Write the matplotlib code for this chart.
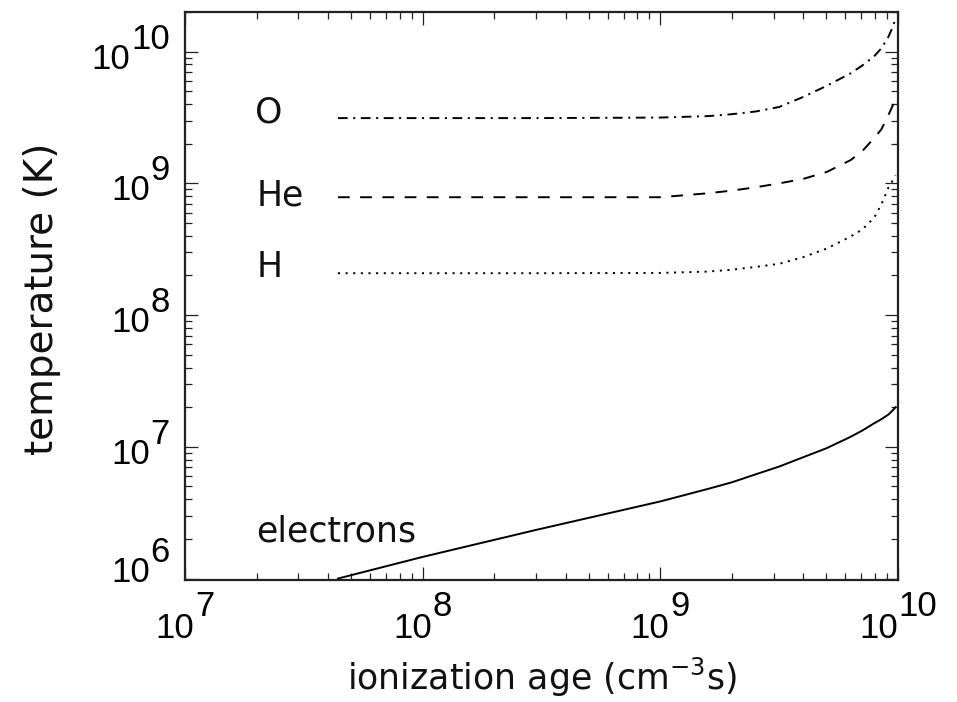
import numpy as np
import matplotlib
matplotlib.use("Agg")
import matplotlib.pyplot as plt
from matplotlib.ticker import LogLocator, NullFormatter

# ionization age (cm^-3 s) shared by all curves
tau = [4.4e7, 1e8, 3e8, 1e9, 1.585e9, 1.995e9, 2.51e9, 3.16e9, 3.98e9, 5.01e9,
       6.31e9, 7.08e9, 7.94e9, 8.51e9, 9.12e9, 9.55e9, 9.77e9]

# temperatures (K)
T_O = [3.13e9, 3.13e9, 3.13e9, 3.16e9, 3.24e9, 3.35e9, 3.51e9, 3.80e9, 4.52e9, 5.50e9,
       6.84e9, 7.85e9, 9.23e9, 1.06e10, 1.30e10, 1.57e10, 1.80e10]
T_He = [7.85e8, 7.85e8, 7.85e8, 7.85e8, 8.41e8, 8.81e8, 9.33e8, 1.0e9, 1.08e9, 1.22e9,
        1.50e9, 1.76e9, 2.21e9, 2.57e9, 3.31e9, 3.98e9, 4.47e9]
T_H = [2.08e8, 2.08e8, 2.08e8, 2.09e8, 2.14e8, 2.21e8, 2.32e8, 2.45e8, 2.75e8, 3.2e8,
       3.94e8, 4.47e8, 5.5e8, 6.92e8, 9.33e8, 1.07e9, 1.15e9]
T_e = [1.0e6, 1.46e6, 2.34e6, 3.85e6, 4.79e6, 5.37e6, 6.17e6, 7.08e6, 8.32e6, 9.77e6,
       1.19e7, 1.33e7, 1.51e7, 1.62e7, 1.76e7, 1.91e7, 2.0e7]

species = ["O", "He", "H", "electrons"]

x_ticks = [1e7, 1e8, 1e9, 1e10]
x_exps = ["7", "8", "9", "10"]
y_ticks = [1e6, 1e7, 1e8, 1e9, 1e10]
y_exps = ["6", "7", "8", "9", "10"]

plt.rcParams["lines.scale_dashes"] = False
plt.rcParams["font.family"] = ["DejaVu Sans"]

fig = plt.figure(figsize=(9.57, 7.02), dpi=100)
ax = fig.add_axes([185 / 957, 1 - 580 / 702, 713 / 957, 568 / 702])
ax.set_xscale("log")
ax.set_yscale("log")
ax.set_xlim(1e7, 1e10)
ax.set_ylim(9.75e5, 2.0e10)

lw = 1.4
ax.plot(tau, T_O, color="black", lw=lw, linestyle=(0, (7, 4, 1.5, 4)))
ax.plot(tau, T_He, color="black", lw=lw, linestyle=(0, (8.5, 7.5)))
ax.plot(tau, T_H, color="black", lw=lw, linestyle=(0, (1.5, 4)))
ax.plot(tau, T_e, color="black", lw=lw, linestyle="-")

# ticks
ax.xaxis.set_major_locator(LogLocator(base=10, numticks=10))
ax.yaxis.set_major_locator(LogLocator(base=10, numticks=10))
ax.xaxis.set_minor_locator(LogLocator(base=10, subs=np.arange(2, 10), numticks=20))
ax.yaxis.set_minor_locator(LogLocator(base=10, subs=np.arange(2, 10), numticks=20))
for axis in (ax.xaxis, ax.yaxis):
    axis.set_major_formatter(NullFormatter())
    axis.set_minor_formatter(NullFormatter())
ax.tick_params(which="both", direction="in", top=True, right=True, color="#222222")
ax.tick_params(which="major", length=9.4, width=0.9)
ax.tick_params(which="minor", length=5, width=0.9)
for sp in ax.spines.values():
    sp.set_linewidth(1.6)
    sp.set_color("#222222")

# power-of-ten tick labels with full-size exponents
fs_tick = 25
tick_font = "Liberation Sans"
adv = 0.556 * fs_tick  # digit advance, points
px = 0.72  # points per pixel

ytr = ax.get_yaxis_transform()
for v, e in zip(y_ticks, y_exps):
    lift = 14 if v == y_ticks[0] else 0
    x_right = -15 * px
    w_exp = len(e) * adv
    ax.annotate(e, (0, v), xycoords=ytr, xytext=(x_right, (3 + lift) * px),
                textcoords="offset points", ha="right", va="baseline",
                fontsize=fs_tick, family=tick_font, annotation_clip=False)
    ax.annotate("10", (0, v), xycoords=ytr,
                xytext=(x_right - w_exp - 1 * px, (-17 + lift) * px),
                textcoords="offset points", ha="right", va="baseline",
                fontsize=fs_tick, family=tick_font, annotation_clip=False)

xtr = ax.get_xaxis_transform()
for v, e in zip(x_ticks, x_exps):
    total = (2 + len(e)) * adv + 1 * px
    left = -total / 2
    ax.annotate("10", (v, 0), xycoords=xtr, xytext=(left, -58 * px),
                textcoords="offset points", ha="left", va="baseline",
                fontsize=fs_tick, family=tick_font, annotation_clip=False)
    ax.annotate(e, (v, 0), xycoords=xtr, xytext=(left + 2 * adv + 1 * px, -36 * px),
                textcoords="offset points", ha="left", va="baseline",
                fontsize=fs_tick, family=tick_font, annotation_clip=False)

# curve labels
fs_lab = 25
label_pos = [(0.098, 0.805), (0.101, 0.660), (0.101, 0.533), (0.0996, 0.067)]
for name, (lx, ly) in zip(species, label_pos):
    ax.text(lx, ly, name, transform=ax.transAxes, ha="left", va="baseline",
            fontsize=fs_lab, color="#111111")

# axis titles
fig.text(42 / 957, 1 - 299 / 702, "temperature (K)", rotation=90,
         ha="center", va="center", fontsize=28, color="#111111")
fig.text(542 / 957, 1 - 690 / 702, r"ionization age (cm$^{-3}$s)",
         ha="center", va="baseline", fontsize=25, color="#111111")

fig.savefig("out.png", dpi=100)
